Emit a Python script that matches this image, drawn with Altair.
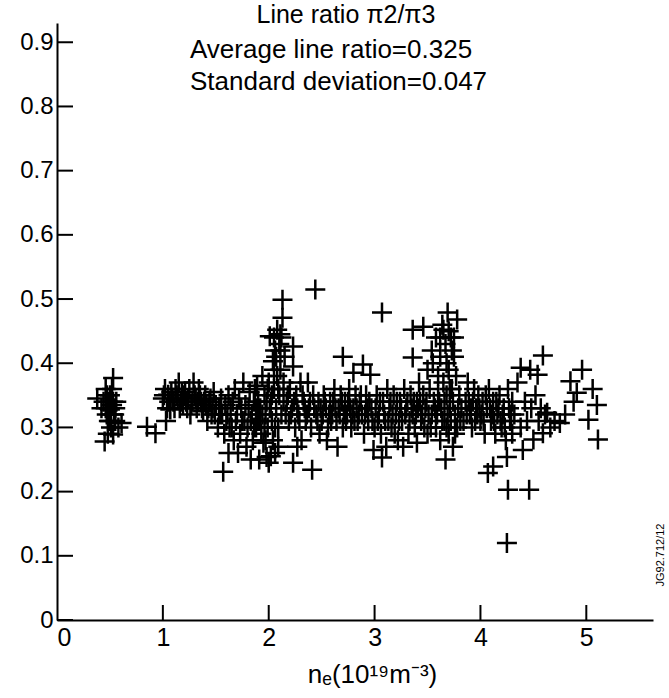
import altair as alt
import pandas as pd

# ---- data ----
ne = [
    0.38, 0.42, 0.45, 0.46, 0.47, 0.48, 0.49, 0.50, 0.50, 0.51, 0.52, 0.53, 0.53, 0.54, 0.55, 0.56, 0.58, 0.61, 0.52, 0.48,
    0.85, 0.93,
    1.00, 1.02, 1.04, 1.05, 1.07, 1.08, 1.10, 1.12, 1.14, 1.16, 1.18, 1.20, 1.22, 1.25, 1.27, 1.29, 1.30, 1.32, 1.34, 1.36,
    1.38, 1.40, 1.42, 1.44, 1.46, 1.48, 1.50, 1.52, 1.03, 1.15, 1.26,
    1.54, 1.55, 1.57, 1.58, 1.60, 1.62, 1.62, 1.64, 1.65, 1.67, 1.68, 1.70, 1.72, 1.73, 1.75, 1.76, 1.78, 1.79, 1.80, 1.82,
    1.84, 1.85, 1.86, 1.88, 1.89, 1.90, 1.91, 1.92, 1.93, 1.94, 1.95, 1.96, 1.97, 1.98, 1.99, 2.00, 1.71, 1.83, 1.87,
    2.00, 2.01, 2.02, 2.03, 2.04, 2.04, 2.05, 2.06, 2.07, 2.08, 2.08, 2.09, 2.10, 2.10, 2.11, 2.12, 2.13, 2.13, 2.14, 2.15,
    2.05, 2.11, 2.02, 2.06,
    2.17, 2.19, 2.20, 2.22, 2.23, 2.23, 2.23, 2.25, 2.26, 2.28, 2.30, 2.31, 2.33, 2.35, 2.37, 2.38, 2.40, 2.41, 2.42, 2.44,
    2.45, 2.47, 2.48, 2.50, 2.52, 2.54, 2.56, 2.58, 2.60, 2.62, 2.64, 2.66, 2.68, 2.70, 2.70, 2.72, 2.74, 2.76, 2.78, 2.80,
    2.80, 2.82, 2.84, 2.86, 2.88, 2.89, 2.90, 2.27, 2.55, 2.65,
    2.92, 2.94, 2.96, 2.97, 2.99, 3.00, 3.02, 3.04, 3.06, 3.07, 3.07, 3.08, 3.10, 3.12, 3.14, 3.16, 3.18, 3.20, 3.22, 3.24,
    3.26, 3.28, 3.30, 3.32, 3.34, 3.36, 3.36, 3.36, 3.38, 3.40, 3.40, 3.11, 3.19, 3.27,
    3.42, 3.44, 3.46, 3.46, 3.48, 3.50, 3.50, 3.52, 3.54, 3.54, 3.56, 3.58, 3.58, 3.60, 3.60, 3.62, 3.62, 3.63, 3.64, 3.65,
    3.65, 3.66, 3.67, 3.67, 3.68, 3.69, 3.70, 3.70, 3.71, 3.72, 3.73, 3.74, 3.75, 3.76, 3.77, 3.78, 3.78, 3.80, 3.82, 3.84,
    3.55, 3.73,
    3.86, 3.88, 3.90, 3.92, 3.94, 3.96, 3.98, 4.00, 4.02, 4.04, 4.06, 4.07, 4.08, 4.10, 4.12, 4.12, 4.14, 4.16, 4.18, 4.20,
    4.22, 4.24, 4.25, 4.25, 4.26, 4.26, 4.28, 4.30, 4.30,
    4.32, 4.35, 4.38, 4.38, 4.40, 4.42, 4.44, 4.46, 4.47, 4.48, 4.50, 4.52, 4.54, 4.55, 4.57, 4.59, 4.59, 4.61, 4.63, 4.66,
    4.70, 4.75, 4.80, 4.85, 4.88, 4.91, 4.96, 5.02, 5.06, 5.10, 5.11,
]
ratio = [
    0.345, 0.330, 0.278, 0.360, 0.320, 0.340, 0.310, 0.328, 0.350, 0.300, 0.335, 0.377, 0.289, 0.320, 0.310, 0.340, 0.300, 0.307, 0.360, 0.290,
    0.301, 0.291,
    0.345, 0.360, 0.330, 0.351, 0.328, 0.355, 0.340, 0.360, 0.345, 0.330, 0.355, 0.350, 0.340, 0.360, 0.335, 0.370, 0.350, 0.330, 0.360, 0.340,
    0.325, 0.350, 0.310, 0.340, 0.320, 0.355, 0.335, 0.300, 0.310, 0.370, 0.320,
    0.320, 0.345, 0.231, 0.290, 0.310, 0.260, 0.350, 0.330, 0.300, 0.280, 0.360, 0.320, 0.345, 0.290, 0.310, 0.370, 0.335, 0.270, 0.300, 0.355,
    0.320, 0.280, 0.340, 0.300, 0.365, 0.310, 0.250, 0.330, 0.290, 0.380, 0.276, 0.350, 0.320, 0.254, 0.300, 0.370, 0.260, 0.250, 0.360,
    0.245, 0.442, 0.340, 0.310, 0.403, 0.280, 0.360, 0.420, 0.330, 0.452, 0.380, 0.300, 0.430, 0.350, 0.390, 0.320, 0.471, 0.499, 0.370, 0.410,
    0.440, 0.445, 0.255, 0.260,
    0.340, 0.310, 0.360, 0.330, 0.426, 0.395, 0.245, 0.300, 0.350, 0.320, 0.370, 0.280, 0.340, 0.310, 0.370, 0.330, 0.300, 0.234, 0.350, 0.515,
    0.320, 0.340, 0.290, 0.310, 0.350, 0.330, 0.300, 0.340, 0.320, 0.360, 0.310, 0.330, 0.350, 0.410, 0.300, 0.340, 0.320, 0.360, 0.300, 0.385,
    0.330, 0.350, 0.310, 0.340, 0.320, 0.398, 0.290, 0.270, 0.280, 0.270,
    0.350, 0.310, 0.382, 0.330, 0.265, 0.300, 0.350, 0.320, 0.290, 0.479, 0.253, 0.340, 0.310, 0.360, 0.330, 0.300, 0.350, 0.320, 0.280, 0.340,
    0.310, 0.360, 0.330, 0.290, 0.350, 0.409, 0.452, 0.320, 0.300, 0.276, 0.340, 0.270, 0.290, 0.270,
    0.370, 0.310, 0.457, 0.350, 0.330, 0.390, 0.290, 0.360, 0.420, 0.320, 0.340, 0.440, 0.300, 0.380, 0.350, 0.410, 0.280, 0.330, 0.460, 0.452,
    0.370, 0.310, 0.250, 0.430, 0.350, 0.479, 0.390, 0.290, 0.330, 0.440, 0.360, 0.270, 0.410, 0.320, 0.380, 0.468, 0.300, 0.350, 0.330, 0.310,
    0.400, 0.420,
    0.340, 0.370, 0.320, 0.300, 0.360, 0.330, 0.350, 0.310, 0.340, 0.290, 0.330, 0.229, 0.360, 0.310, 0.239, 0.340, 0.290, 0.320, 0.350, 0.300,
    0.330, 0.280, 0.254, 0.120, 0.203, 0.360, 0.310, 0.340, 0.290,
    0.320, 0.370, 0.393, 0.300, 0.265, 0.340, 0.310, 0.203, 0.390, 0.330, 0.281, 0.350, 0.382, 0.310, 0.330, 0.412, 0.291, 0.320, 0.323, 0.300,
    0.310, 0.307, 0.320, 0.372, 0.340, 0.354, 0.390, 0.312, 0.360, 0.335, 0.281,
]
# further points inside the dense black band
ne_band = [
    1.01, 1.06, 1.09, 1.11, 1.13, 1.17, 1.19, 1.21, 1.23, 1.24, 1.28, 1.31, 1.33, 1.35, 1.37, 1.39, 1.41, 1.43, 1.45, 1.47, 1.49,
    1.53, 1.56, 1.59, 1.61, 1.63, 1.66, 1.69, 1.74, 1.77, 1.81, 1.83, 1.86, 1.88, 1.90, 1.92, 1.94, 1.96, 1.98, 1.99, 1.97,
    2.01, 2.03, 2.05, 2.07, 2.09, 2.11, 2.12, 2.14, 2.06, 2.09,
    2.16, 2.18, 2.21, 2.24, 2.27, 2.29, 2.32, 2.34, 2.36, 2.39, 2.43, 2.46, 2.49, 2.51, 2.53, 2.57, 2.59, 2.61, 2.63, 2.67,
    2.69, 2.71, 2.73, 2.75, 2.77, 2.79, 2.81, 2.83, 2.85, 2.87,
    2.91, 2.93, 2.95, 2.98, 3.01, 3.03, 3.05, 3.09, 3.13, 3.15, 3.17, 3.21, 3.23, 3.25, 3.29, 3.31, 3.33, 3.35, 3.37, 3.39,
    3.41, 3.43, 3.45, 3.47, 3.49, 3.51, 3.53, 3.57, 3.59, 3.61, 3.64, 3.66, 3.68, 3.69, 3.71, 3.72, 3.74, 3.76, 3.79, 3.81,
    3.68, 3.62, 3.70, 3.75,
    3.87, 3.89, 3.91, 3.93, 3.95, 3.97, 3.99, 4.01, 4.03, 4.05, 4.09, 4.11, 4.13, 4.15, 4.17, 4.19, 4.21, 4.23, 4.27, 4.29,
    0.44, 0.47, 0.49, 0.51, 0.53, 0.55, 0.50, 0.46,
]
ratio_band = [
    0.350, 0.340, 0.345, 0.330, 0.350, 0.340, 0.335, 0.355, 0.330, 0.345, 0.340, 0.345, 0.340, 0.350, 0.330, 0.340, 0.335, 0.330, 0.345, 0.330, 0.320,
    0.330, 0.320, 0.335, 0.320, 0.300, 0.340, 0.310, 0.330, 0.310, 0.330, 0.310, 0.300, 0.330, 0.340, 0.310, 0.320, 0.300, 0.340, 0.360, 0.280,
    0.330, 0.350, 0.390, 0.410, 0.360, 0.420, 0.440, 0.340, 0.300, 0.270,
    0.320, 0.350, 0.320, 0.340, 0.330, 0.310, 0.350, 0.330, 0.320, 0.340, 0.330, 0.310, 0.330, 0.320, 0.340, 0.320, 0.310, 0.340, 0.330, 0.320,
    0.340, 0.320, 0.310, 0.340, 0.330, 0.320, 0.310, 0.330, 0.320, 0.350,
    0.320, 0.330, 0.340, 0.310, 0.330, 0.310, 0.340, 0.320, 0.310, 0.340, 0.320, 0.340, 0.310, 0.330, 0.320, 0.340, 0.310, 0.330, 0.340, 0.320,
    0.330, 0.340, 0.320, 0.300, 0.340, 0.320, 0.300, 0.330, 0.320, 0.340, 0.310, 0.340, 0.300, 0.320, 0.360, 0.310, 0.340, 0.290, 0.330, 0.310,
    0.400, 0.440, 0.450, 0.440,
    0.320, 0.340, 0.330, 0.340, 0.310, 0.320, 0.330, 0.320, 0.310, 0.350, 0.330, 0.320, 0.310, 0.340, 0.330, 0.310, 0.320, 0.300, 0.330, 0.320,
    0.340, 0.350, 0.330, 0.320, 0.340, 0.330, 0.310, 0.330,
]

y_tick_values = [0, 0.1, 0.2, 0.3, 0.4, 0.5, 0.6, 0.7, 0.8, 0.9]
x_tick_values = [0, 1, 2, 3, 4, 5]
title_text = "Line ratio \u03c02/\u03c03"
average_text = "Average line ratio=0.325"
stdev_text = "Standard deviation=0.047"
x_title = "n\u2091(10\u00b9\u2079m\u207b\u00b3)"
side_label = "JG92.712/12"

FONT = "Liberation Sans"
W, H = 596, 597

df = pd.DataFrame({"ne": ne + ne_band, "ratio": ratio + ratio_band})
xs = alt.Scale(domain=[0, 5.63], nice=False, zero=True)
ys = alt.Scale(domain=[0, 0.93], nice=False, zero=True)

points = alt.Chart(df).mark_point(
    shape="M-1,0L1,0M0,-1L0,1", size=400, filled=False, color="black", strokeWidth=2.5, opacity=1
).encode(
    x=alt.X("ne:Q", scale=xs, axis=alt.Axis(
        values=x_tick_values, format="d", labelFontSize=25, labelPadding=5,
        title=x_title, titleFontSize=26, titleFontWeight="normal", titleX=315, titleY=62,
        titleAlign="center", titleBaseline="alphabetic",
    )),
    y=alt.Y("ratio:Q", scale=ys, axis=alt.Axis(
        values=y_tick_values, labelFontSize=24, labelPadding=4,
        labelExpr="datum.value == 0 ? '0' : format(datum.value, '.1f')", title=None,
    )),
)

ytick_df = pd.DataFrame({"v": y_tick_values})
xtick_df = pd.DataFrame({"v": x_tick_values[1:]})

yticks = alt.Chart(ytick_df).mark_rule(color="black", strokeWidth=2).encode(
    y=alt.Y("v:Q", scale=ys), x=alt.value(0), x2=alt.value(16)
)
xticks = alt.Chart(xtick_df).mark_rule(color="black", strokeWidth=2).encode(
    x=alt.X("v:Q", scale=xs), y=alt.value(H), y2=alt.value(H - 15)
)


def label(text, x, y, size, align="left", angle=0):
    kw = dict(font=FONT, fontSize=size, color="black", align=align, baseline="middle")
    if angle:
        kw["angle"] = angle
    return alt.Chart(pd.DataFrame({"t": [text]})).mark_text(**kw).encode(
        text="t:N", x=alt.value(x), y=alt.value(y)
    )


title_mark = label(title_text, 289, -8, 25, align="center")
avg_mark = label(average_text, 133, 27, 26)
std_mark = label(stdev_text, 133, 59, 26)
side_mark = label(side_label, 604, 532, 11, align="center", angle=270)

chart = alt.layer(points, yticks, xticks, title_mark, avg_mark, std_mark, side_mark).properties(
    width=W, height=H,
    autosize=alt.AutoSizeParams(type="none"),
    padding={"left": 57, "top": 23, "right": 16, "bottom": 78},
    background="white",
).configure_view(strokeWidth=0).configure_axis(
    domainColor="black", domainWidth=2, ticks=False, grid=False,
    labelFont=FONT, titleFont=FONT, labelColor="black", titleColor="black",
)

chart.save("out.html", embed_options={"renderer": "svg", "actions": False})
